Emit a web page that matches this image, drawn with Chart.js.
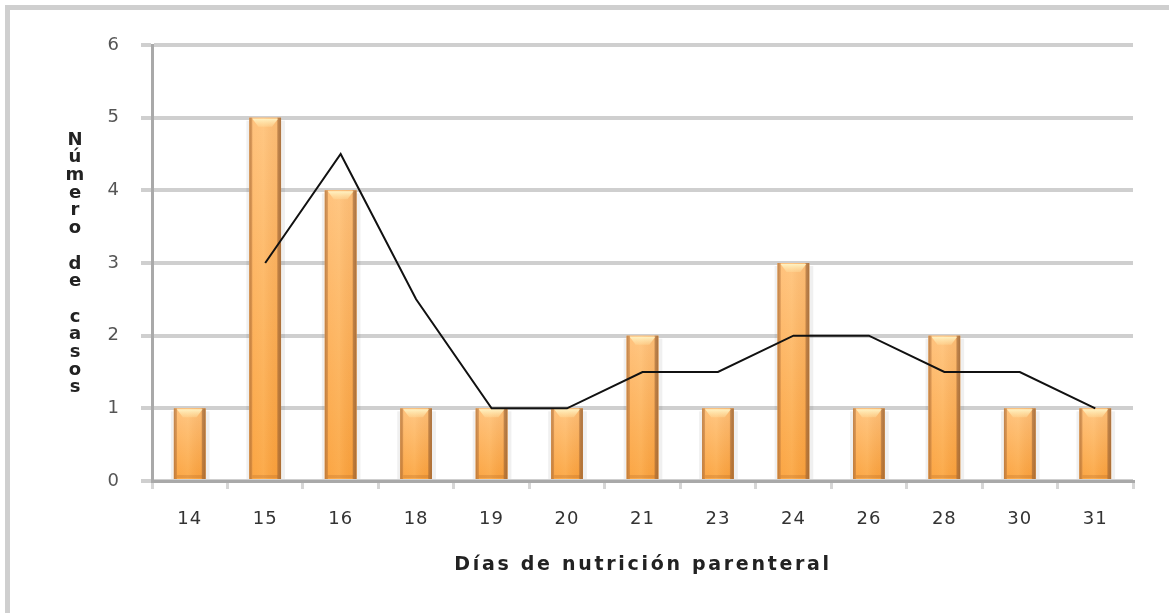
<!DOCTYPE html>
<html>
<head>
<meta charset="utf-8">
<script src="https://cdn.jsdelivr.net/npm/chart.js@4.4.0/dist/chart.umd.min.js"></script>
<style>
  html, body { margin: 0; padding: 0; background: #fff; overflow: hidden; }
  #wrap { position: absolute; left: 0; top: 0; width: 1169px; height: 613px; }
</style>
</head>
<body>
<div id="wrap"><canvas id="c"></canvas></div>
<script>
const dias = ['14','15','16','18','19','20','21','23','24','26','28','30','31'];
const casos = [1, 5, 4, 1, 1, 1, 2, 1, 3, 1, 2, 1, 1];
const tendencia = [null, 3, 4.5, 2.5, 1, 1, 1.5, 1.5, 2, 2, 1.5, 1.5, 1];
const yTicks = [0, 1, 2, 3, 4, 5, 6];
const xTitle = 'Días de nutrición parenteral';
const yTitle = 'Número de casos';

const framePlugin = {
  id: 'frame',
  beforeDraw(chart) {
    const ctx = chart.ctx;
    ctx.save();
    ctx.fillStyle = '#cfcfcf';
    ctx.fillRect(5, 5, 5, chart.height - 5);
    ctx.fillRect(5, 5, chart.width - 5, 5);
    ctx.restore();
    ctx.letterSpacing = '1px';
  }
};

const barStyle = {
  id: 'barStyle',
  afterDatasetDraw(chart, args) {
    if (args.index !== 0) return;
    const ctx = chart.ctx;
    const meta = chart.getDatasetMeta(0);
    meta.data.forEach(el => {
      const p = el.getProps(['x', 'y', 'base', 'width'], true);
      const left = p.x - p.width / 2, w = p.width, top = p.y, h = p.base - p.y;
      ctx.save();
      ctx.fillStyle = 'rgba(0,0,0,0.06)';
      ctx.fillRect(left + w, top + 3, 4, h - 3);
      ctx.fillRect(left - 3, top + 3, 3, h - 3);
      const gv = ctx.createLinearGradient(0, top, 0, p.base);
      gv.addColorStop(0, '#ffc27c');
      gv.addColorStop(1, '#fba23c');
      ctx.fillStyle = gv;
      ctx.fillRect(left, top, w, h);
      const gh = ctx.createLinearGradient(left, 0, left + w, 0);
      gh.addColorStop(0, 'rgba(170,110,60,0.75)');
      gh.addColorStop(0.09, 'rgba(180,115,60,0.45)');
      gh.addColorStop(0.11, 'rgba(255,200,140,0.1)');
      gh.addColorStop(0.45, 'rgba(255,225,170,0.15)');
      gh.addColorStop(0.86, 'rgba(190,110,40,0.08)');
      gh.addColorStop(0.9, 'rgba(150,95,50,0.6)');
      gh.addColorStop(1, 'rgba(150,95,50,0.8)');
      ctx.fillStyle = gh;
      ctx.fillRect(left, top, w, h);
      ctx.fillStyle = 'rgba(170,100,40,0.25)';
      ctx.fillRect(left + 3, p.base - 4, w - 6, 3);
      const gt = ctx.createLinearGradient(0, top, 0, top + 9);
      gt.addColorStop(0, '#fff8cc');
      gt.addColorStop(1, 'rgba(255,230,170,0.3)');
      ctx.fillStyle = gt;
      ctx.beginPath();
      ctx.moveTo(left + 3, top + 1);
      ctx.lineTo(left + w - 3, top + 1);
      ctx.lineTo(left + w - 9, top + 9);
      ctx.lineTo(left + 9, top + 9);
      ctx.closePath();
      ctx.fill();
      ctx.restore();
    });
  }
};

const titles = {
  id: 'titles',
  afterDraw(chart) {
    const ctx = chart.ctx;
    ctx.save();
    ctx.fillStyle = '#222';
    ctx.textAlign = 'center';
    ctx.textBaseline = 'middle';
    ctx.font = 'bold 19px "DejaVu Sans"';
    ctx.letterSpacing = '2.7px';
    ctx.fillText(xTitle, 643, 565);
    ctx.letterSpacing = '0px';
    ctx.font = 'bold 18px "DejaVu Sans"';
    const chars = Array.from(yTitle);
    chars.forEach((ch, i) => {
      if (ch !== ' ') ctx.fillText(ch, 75, 140 + i * 17.7);
    });
    ctx.restore();
  }
};

new Chart(document.getElementById('c'), {
  data: {
    labels: dias,
    datasets: [
      {
        type: 'bar',
        data: casos,
        backgroundColor: '#fbb060',
        borderWidth: 0,
        barPercentage: 0.7,
        categoryPercentage: 0.6,
        order: 2
      },
      {
        type: 'line',
        data: tendencia,
        borderColor: '#111',
        borderWidth: 2,
        pointRadius: 0,
        tension: 0,
        fill: false,
        order: 1
      }
    ]
  },
  options: {
    responsive: true,
    maintainAspectRatio: false,
    animation: false,
    events: [],
    layout: { padding: { left: 0, right: 36, top: 45, bottom: 0 } },
    plugins: { legend: { display: false }, tooltip: { enabled: false }, title: { display: false } },
    scales: {
      x: {
        offset: true,
        afterFit(s) { s.height = 132; },
        grid: { display: true, offset: true, drawOnChartArea: false, drawTicks: true,
                tickLength: 8, color: '#d6d6d6', lineWidth: 3 },
        border: { display: true, color: '#a9a9a9', width: 3 },
        ticks: { color: '#333', padding: 20, font: { family: 'DejaVu Sans', size: 18 } }
      },
      y: {
        min: 0, max: 6,
        afterFit(s) { s.width = 152; },
        afterBuildTicks(s) { s.ticks = yTicks.map(v => ({ value: v })); },
        grid: { color: '#cfcfcf', lineWidth: 4, tickLength: 11, drawTicks: true },
        border: { display: true, color: '#a9a9a9', width: 3 },
        ticks: { color: '#555', padding: 21, font: { family: 'DejaVu Sans', size: 18 } }
      }
    }
  },
  plugins: [framePlugin, barStyle, titles]
});
</script>
</body>
</html>
